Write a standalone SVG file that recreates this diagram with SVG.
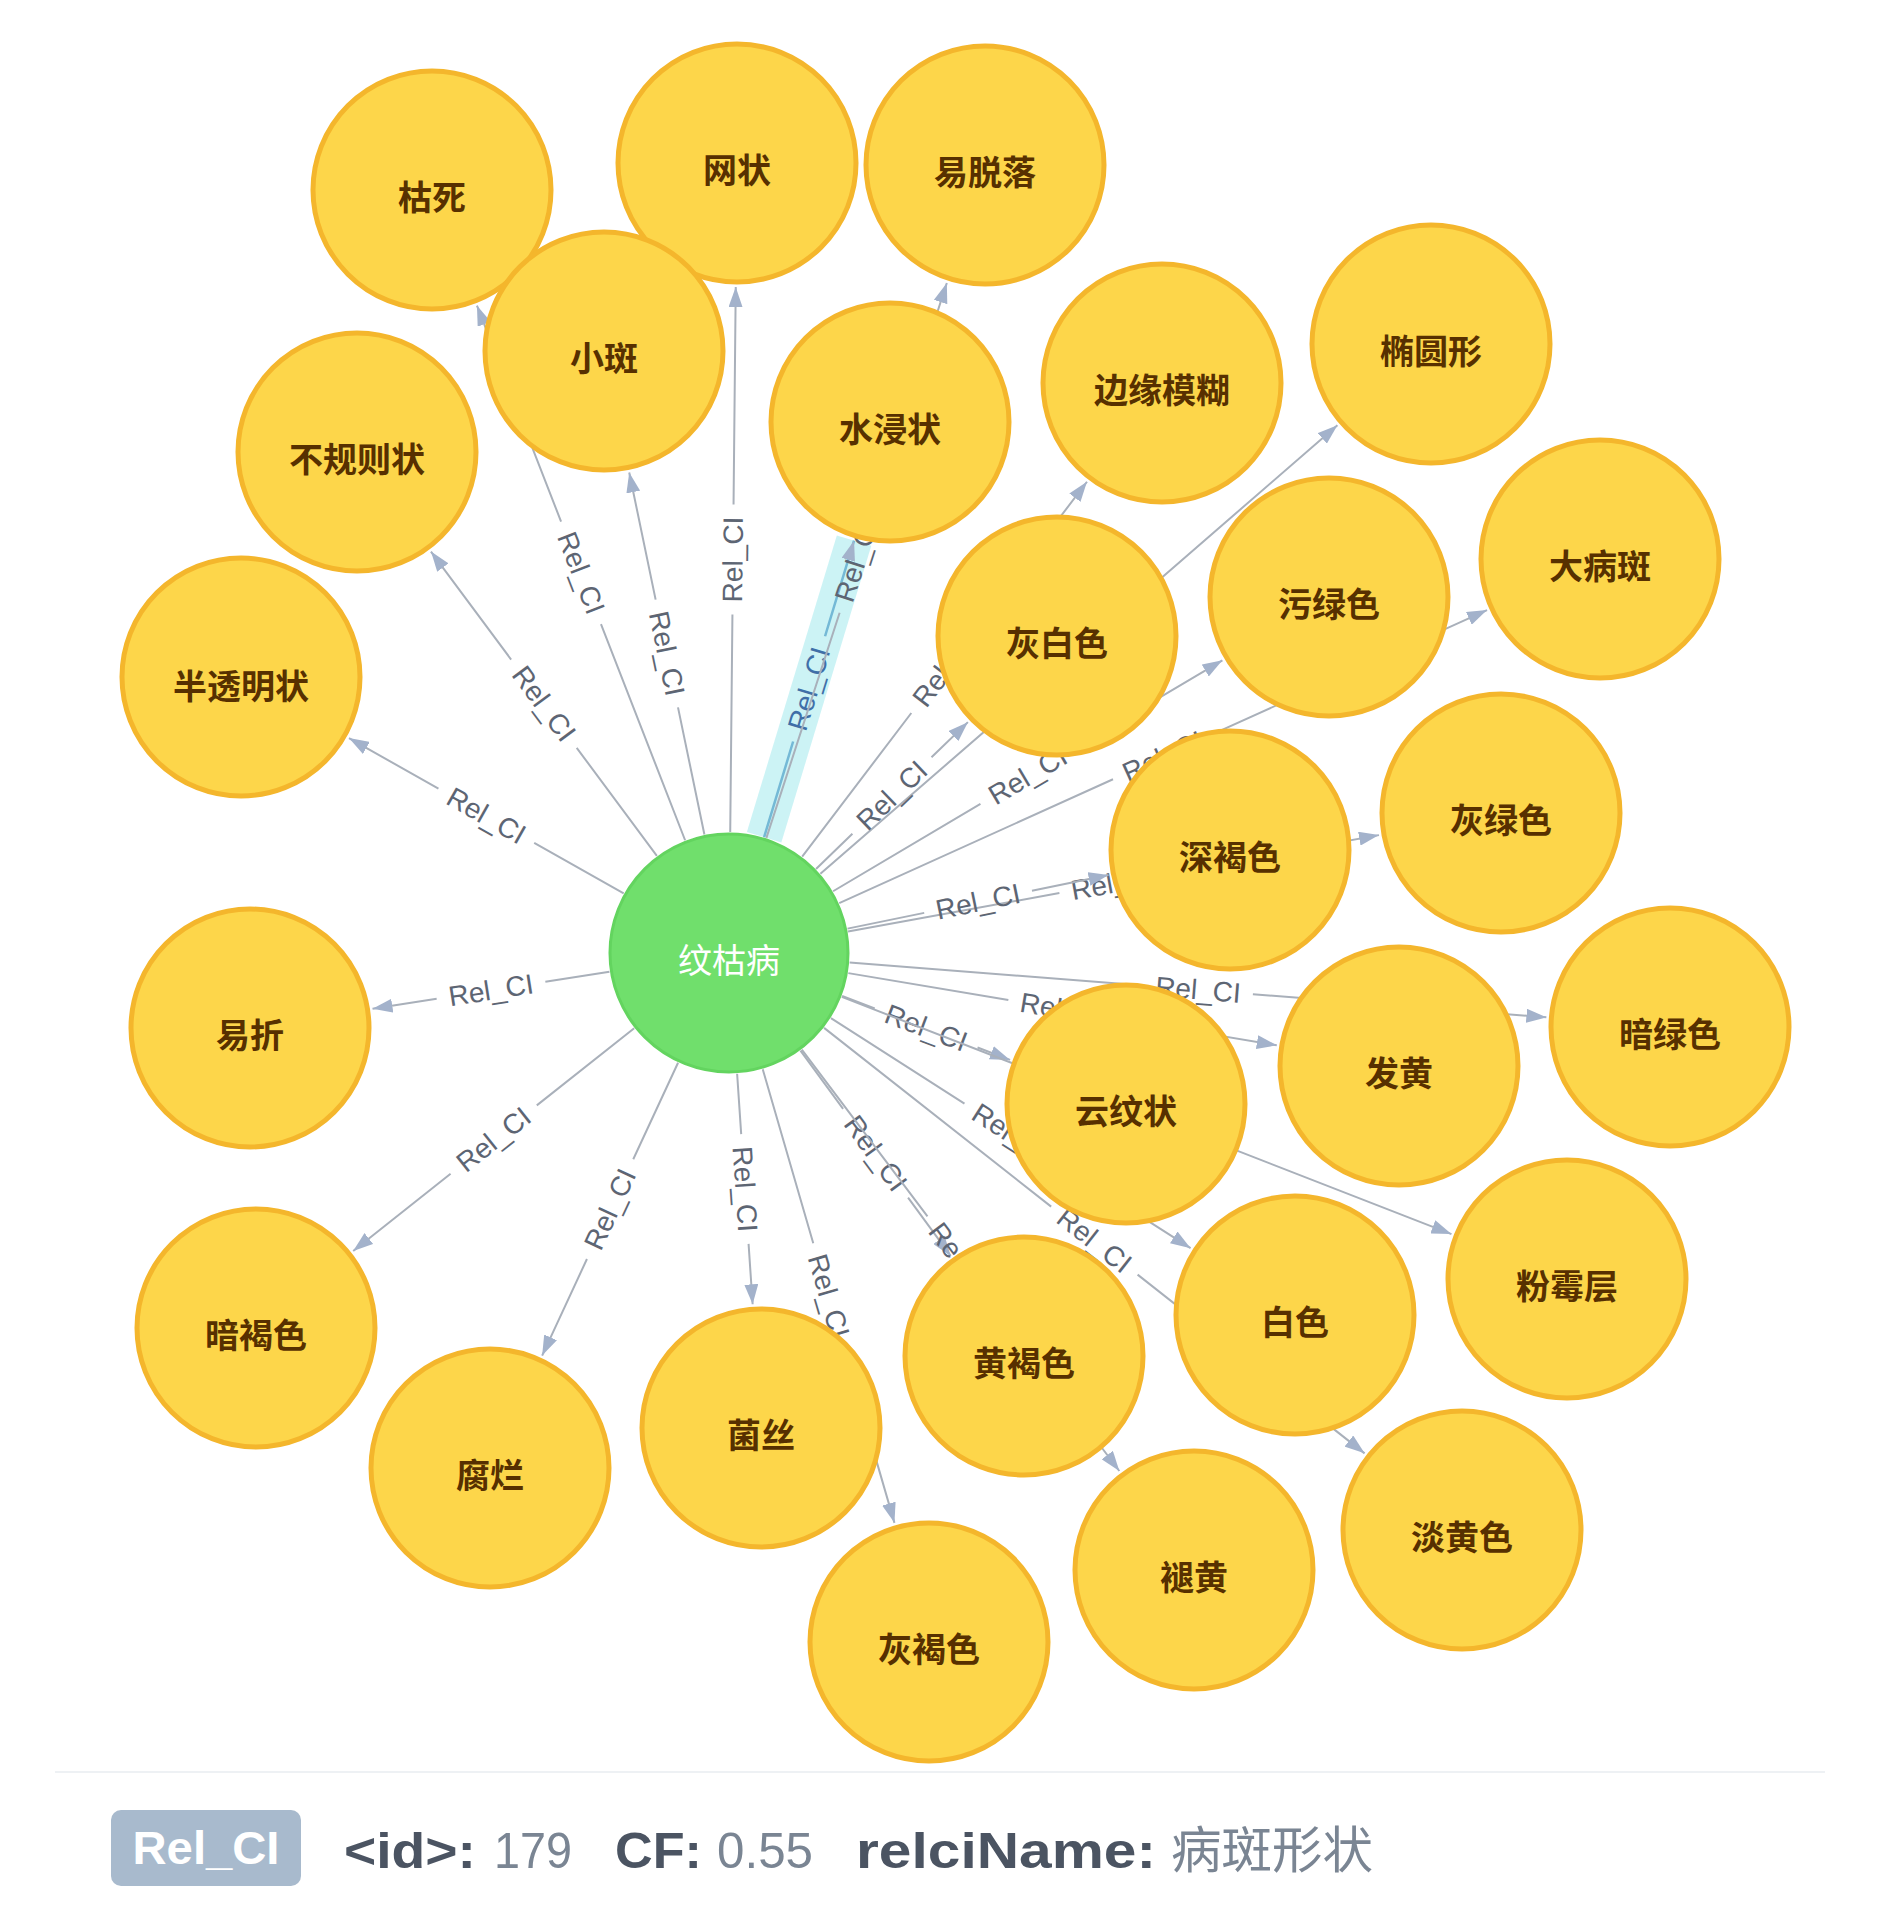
<svg xmlns="http://www.w3.org/2000/svg" width="1890" height="1928" viewBox="0 0 1890 1928">
<defs>
<marker id="arr" viewBox="0 0 20 14" refX="20" refY="7" markerWidth="20" markerHeight="14" markerUnits="userSpaceOnUse" orient="auto">
<path d="M0,0 L20,7 L0,14 z" fill="#a3b2cb"/>
</marker>
<style>
.edges path.e{fill:none;stroke:#a9b0ba;stroke-width:2;marker-end:url(#arr)}
.edges path.halo{fill:none;stroke:#bff0f3;stroke-width:36;opacity:0.8}
.edges path.sel{fill:none;stroke:#74b9d6;stroke-width:2.5;marker-end:url(#arr)}
.lbl{font-family:"Liberation Sans",Arial,sans-serif;font-size:28px;fill:#5d6573;text-anchor:middle;dominant-baseline:central}
.lbl.st{fill:#3f6fa8}
.node circle{fill:#fdd64a;stroke:#f4b62c;stroke-width:5}
.node text{font-family:"Noto Sans CJK SC","Noto Sans",sans-serif;font-size:34px;font-weight:bold;fill:#573000;text-anchor:middle;dominant-baseline:central}
.center circle{fill:#70df6c;stroke:#63d45f;stroke-width:3}
.center text{fill:#ffffff;font-weight:normal}
.fb{font-family:"Liberation Sans",Arial,sans-serif;font-weight:bold;font-size:50px;fill:#4b5462}
.fr{font-family:"Liberation Sans",Arial,sans-serif;font-size:50px;fill:#7a8593}
</style>
</defs>
<rect width="1890" height="1928" fill="#ffffff"/>
<g id="edges" class="edges">
<g transform="translate(729 953) rotate(-73.13)"><path class="halo" d="M121 0H430.9"/><path class="sel" d="M121 0H221M331 0H430.9"/><text class="lbl st" x="276">Rel_CI</text></g>
<g transform="translate(729 953) rotate(-111.27)"><path class="e" d="M121 0H352.9M462.9 0H694.8"/><text class="lbl" x="407.9" transform="rotate(180 407.9 0)">Rel_CI</text></g>
<g transform="translate(729 953) rotate(-89.42)"><path class="e" d="M121 0H338.5M448.5 0H666"/><text class="lbl" x="393.5">Rel_CI</text></g>
<g transform="translate(729 953) rotate(-71.99)"><path class="e" d="M121 0H357.8M467.8 0H704.5"/><text class="lbl" x="412.8">Rel_CI</text></g>
<g transform="translate(729 953) rotate(-101.73)"><path class="e" d="M121 0H250.9M360.9 0H490.8"/><text class="lbl" x="305.9" transform="rotate(180 305.9 0)">Rel_CI</text></g>
<g transform="translate(729 953) rotate(-52.78)"><path class="e" d="M121 0H301.4M411.4 0H591.8"/><text class="lbl" x="356.4">Rel_CI</text></g>
<g transform="translate(729 953) rotate(-40.94)"><path class="e" d="M121 0H408.2M518.2 0H805.4"/><text class="lbl" x="463.2">Rel_CI</text></g>
<g transform="translate(729 953) rotate(-126.59)"><path class="e" d="M121 0H255.5M365.5 0H500"/><text class="lbl" x="310.5" transform="rotate(180 310.5 0)">Rel_CI</text></g>
<g transform="translate(729 953) rotate(-24.34)"><path class="e" d="M121 0H421.5M531.5 0H832"/><text class="lbl" x="476.5">Rel_CI</text></g>
<g transform="translate(729 953) rotate(-30.68)"><path class="e" d="M121 0H292.4M402.4 0H573.7"/><text class="lbl" x="347.4">Rel_CI</text></g>
<g transform="translate(729 953) rotate(-44.02)"><path class="e" d="M121 0H171.6M281.6 0H332.2"/><text class="lbl" x="226.6">Rel_CI</text></g>
<g transform="translate(729 953) rotate(-150.51)"><path class="e" d="M121 0H223.8M333.8 0H436.6"/><text class="lbl" x="278.8" transform="rotate(180 278.8 0)">Rel_CI</text></g>
<g transform="translate(729 953) rotate(-10.28)"><path class="e" d="M121 0H335.8M445.8 0H660.6"/><text class="lbl" x="390.8">Rel_CI</text></g>
<g transform="translate(729 953) rotate(-11.62)"><path class="e" d="M121 0H199.3M309.3 0H387.5"/><text class="lbl" x="254.3">Rel_CI</text></g>
<g transform="translate(729 953) rotate(171.10)"><path class="e" d="M121 0H185.9M295.9 0H360.8"/><text class="lbl" x="240.9" transform="rotate(180 240.9 0)">Rel_CI</text></g>
<g transform="translate(729 953) rotate(4.50)"><path class="e" d="M121 0H415.5M525.5 0H819.9"/><text class="lbl" x="470.5">Rel_CI</text></g>
<g transform="translate(729 953) rotate(9.57)"><path class="e" d="M121 0H283.3M393.3 0H555.5"/><text class="lbl" x="338.3">Rel_CI</text></g>
<g transform="translate(729 953) rotate(20.82)"><path class="e" d="M121 0H155.9M265.9 0H300.7"/><text class="lbl" x="210.9">Rel_CI</text></g>
<g transform="translate(729 953) rotate(21.26)"><path class="e" d="M121 0H393.1M503.1 0H775.2"/><text class="lbl" x="448.1">Rel_CI</text></g>
<g transform="translate(729 953) rotate(32.60)"><path class="e" d="M121 0H279.5M389.5 0H547.9"/><text class="lbl" x="334.5">Rel_CI</text></g>
<g transform="translate(729 953) rotate(141.59)"><path class="e" d="M121 0H245.3M355.3 0H479.6"/><text class="lbl" x="300.3" transform="rotate(180 300.3 0)">Rel_CI</text></g>
<g transform="translate(729 953) rotate(53.80)"><path class="e" d="M121 0H193.2M303.2 0H375.4"/><text class="lbl" x="248.2">Rel_CI</text></g>
<g transform="translate(729 953) rotate(86.15)"><path class="e" d="M121 0H181.6M291.6 0H352.1"/><text class="lbl" x="236.6">Rel_CI</text></g>
<g transform="translate(729 953) rotate(114.90)"><path class="e" d="M121 0H227.4M337.4 0H443.8"/><text class="lbl" x="282.4" transform="rotate(180 282.4 0)">Rel_CI</text></g>
<g transform="translate(729 953) rotate(38.21)"><path class="e" d="M121 0H410M520 0H808.9"/><text class="lbl" x="465">Rel_CI</text></g>
<g transform="translate(729 953) rotate(53.00)"><path class="e" d="M121 0H329.8M439.8 0H648.6"/><text class="lbl" x="384.8">Rel_CI</text></g>
<g transform="translate(729 953) rotate(73.81)"><path class="e" d="M121 0H302.2M412.2 0H593.4"/><text class="lbl" x="357.2">Rel_CI</text></g>
</g>
<g id="n-kusi" class="node"><circle cx="432" cy="190" r="119"/><text x="432" y="195">枯死</text></g>
<g id="n-wangzhuang" class="node"><circle cx="737" cy="163" r="119"/><text x="737" y="168">网状</text></g>
<g id="n-yituoluo" class="node"><circle cx="985" cy="165" r="119"/><text x="985" y="170">易脱落</text></g>
<g id="n-xiaoban" class="node"><circle cx="604" cy="351" r="119"/><text x="604" y="356">小斑</text></g>
<g id="n-shuijinzhuang" class="node"><circle cx="890" cy="422" r="119"/><text x="890" y="427">水浸状</text></g>
<g id="n-bianyuanmohu" class="node"><circle cx="1162" cy="383" r="119"/><text x="1162" y="388">边缘模糊</text></g>
<g id="n-tuoyuanxing" class="node"><circle cx="1431" cy="344" r="119"/><text x="1431" y="349">椭圆形</text></g>
<g id="n-buguizezhuang" class="node"><circle cx="357" cy="452" r="119"/><text x="357" y="457">不规则状</text></g>
<g id="n-dabingban" class="node"><circle cx="1600" cy="559" r="119"/><text x="1600" y="564">大病斑</text></g>
<g id="n-wulvse" class="node"><circle cx="1329" cy="597" r="119"/><text x="1329" y="602">污绿色</text></g>
<g id="n-huibaise" class="node"><circle cx="1057" cy="636" r="119"/><text x="1057" y="641">灰白色</text></g>
<g id="n-bantoumingzhuang" class="node"><circle cx="241" cy="677" r="119"/><text x="241" y="684">半透明状</text></g>
<g id="n-huilvse" class="node"><circle cx="1501" cy="813" r="119"/><text x="1501" y="818">灰绿色</text></g>
<g id="n-shenhese" class="node"><circle cx="1230" cy="850" r="119"/><text x="1230" y="855">深褐色</text></g>
<g id="n-wenkubing" class="node center"><circle cx="729" cy="953" r="119"/><text x="729" y="958">纹枯病</text></g>
<g id="n-yizhe" class="node"><circle cx="250" cy="1028" r="119"/><text x="250" y="1033">易折</text></g>
<g id="n-anlvse" class="node"><circle cx="1670" cy="1027" r="119"/><text x="1670" y="1032">暗绿色</text></g>
<g id="n-fahuang" class="node"><circle cx="1399" cy="1066" r="119"/><text x="1399" y="1071">发黄</text></g>
<g id="n-yunwenzhuang" class="node"><circle cx="1126" cy="1104" r="119"/><text x="1126" y="1109">云纹状</text></g>
<g id="n-fenmeiceng" class="node"><circle cx="1567" cy="1279" r="119"/><text x="1567" y="1284">粉霉层</text></g>
<g id="n-baise" class="node"><circle cx="1295" cy="1315" r="119"/><text x="1295" y="1320">白色</text></g>
<g id="n-anhese" class="node"><circle cx="256" cy="1328" r="119"/><text x="256" y="1333">暗褐色</text></g>
<g id="n-huanghese" class="node"><circle cx="1024" cy="1356" r="119"/><text x="1024" y="1361">黄褐色</text></g>
<g id="n-junsi" class="node"><circle cx="761" cy="1428" r="119"/><text x="761" y="1433">菌丝</text></g>
<g id="n-fulan" class="node"><circle cx="490" cy="1468" r="119"/><text x="490" y="1473">腐烂</text></g>
<g id="n-danhuangse" class="node"><circle cx="1462" cy="1530" r="119"/><text x="1462" y="1535">淡黄色</text></g>
<g id="n-tuihuang" class="node"><circle cx="1194" cy="1570" r="119"/><text x="1194" y="1575">褪黄</text></g>
<g id="n-huihese" class="node"><circle cx="929" cy="1642" r="119"/><text x="929" y="1647">灰褐色</text></g>
<g id="footer">
<line x1="55" y1="1772" x2="1825" y2="1772" stroke="#eef1f4" stroke-width="2"/>
<rect x="111" y="1810" width="190" height="76" rx="10" fill="#a8bacd"/>
<text x="206" y="1864" text-anchor="middle" font-family="'Liberation Sans',Arial,sans-serif" font-weight="bold" font-size="46" fill="#ffffff" textLength="147" lengthAdjust="spacingAndGlyphs">Rel_CI</text>
<text class="fb" x="344" y="1868" textLength="132" lengthAdjust="spacingAndGlyphs">&lt;id&gt;:</text>
<text class="fr" x="494" y="1868" textLength="78" lengthAdjust="spacingAndGlyphs">179</text>
<text class="fb" x="615" y="1868" textLength="87" lengthAdjust="spacingAndGlyphs">CF:</text>
<text class="fr" x="717" y="1868" textLength="96" lengthAdjust="spacingAndGlyphs">0.55</text>
<text class="fb" x="856" y="1868" textLength="300" lengthAdjust="spacingAndGlyphs">relciName:</text>
<text x="1171" y="1868" font-family="'Noto Sans CJK SC','Noto Sans',sans-serif" font-size="50" fill="#7a8593" textLength="202" lengthAdjust="spacingAndGlyphs">病斑形状</text>
</g>
</svg>
